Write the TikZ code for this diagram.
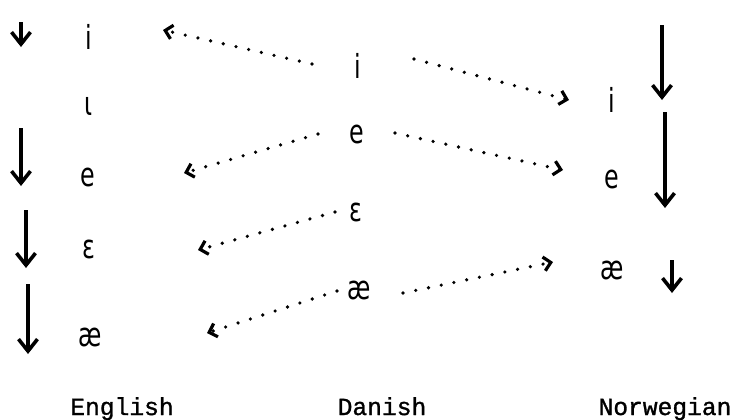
\documentclass[tikz,border=0pt]{standalone}
\usepackage{fontspec}
\usetikzlibrary{arrows.meta,calc}
\newfontfamily\vowelfont[FakeStretch=0.72]{DejaVu Sans}
\newfontfamily\langfont[FakeBold=1.2]{Liberation Mono}

\begin{document}
\begin{tikzpicture}[
    x=0.5pt, y=-0.5pt,
    vowel/.style={font=\vowelfont\fontsize{16.5}{19}\selectfont, inner sep=0pt},
    lang/.style={font=\langfont\fontsize{12.3}{14}\selectfont, anchor=base, inner sep=0pt},
    shiftarrow/.style={line width=1.8pt, -{Straight Barb[length=6pt,width=9.5pt]}},
    loanarrow/.style={line width=1.8pt, line cap=round, dash pattern=on 0pt off 6.5pt,
        -{Straight Barb[length=3.5pt,width=7pt,line width=1.6pt]}}
]
\useasboundingbox (0,0) rectangle (734,419);

% English
\node[vowel] (eng-i) at (89,37) {i};
\node[vowel] (eng-iota) at (89,106) {ι};
\node[vowel] (eng-e) at (88,177) {e};
\node[vowel] (eng-eps) at (89,249) {ɛ};
\node[vowel] (eng-ae) at (90,337) {æ};

% Danish
\node[vowel] (dan-i) at (358,66) {i};
\node[vowel] (dan-e) at (357,134) {e};
\node[vowel] (dan-eps) at (356,212) {ɛ};
\node[vowel] (dan-ae) at (359,290) {æ};

% Norwegian
\node[vowel] (nor-i) at (612,100) {i};
\node[vowel] (nor-e) at (612,179) {e};
\node[vowel] (nor-ae) at (612,270) {æ};

\node[lang] (eng) at (122,415) {English};
\node[lang] (dan) at (382,415) {Danish};
\node[lang] (nor) at (665,415) {Norwegian};

% shifts within each language
\draw[shiftarrow] (21,22) -- (21,47);
\draw[shiftarrow] (21,128) -- (21,186);
\draw[shiftarrow] (26,210) -- (26,268);
\draw[shiftarrow] (28,284) -- (28,354);
\draw[shiftarrow] (662,25) -- (662,100);
\draw[shiftarrow] (665,112) -- (665,208);
\draw[shiftarrow] (672,260) -- (672,293);

% Danish to English
\draw[loanarrow] ($(dan-i)+(-46,-2)$) -- ($(eng-i)+(74,-7)$);
\draw[loanarrow] ($(dan-e)+(-39,0)$) -- ($(eng-e)+(96,-4)$);
\draw[loanarrow] ($(dan-eps)+(-21,0)$) -- ($(eng-eps)+(109,1)$);
\draw[loanarrow] ($(dan-ae)+(-22,1)$) -- ($(eng-ae)+(117,-4)$);

% Danish to Norwegian
\draw[loanarrow] ($(dan-i)+(56,-7)$) -- ($(nor-i)+(-43,0)$);
\draw[loanarrow] ($(dan-e)+(38,-1)$) -- ($(nor-e)+(-49,-9)$);
\draw[loanarrow] ($(dan-ae)+(44,3)$) -- ($(nor-ae)+(-59,-8)$);

\end{tikzpicture}
\end{document}
